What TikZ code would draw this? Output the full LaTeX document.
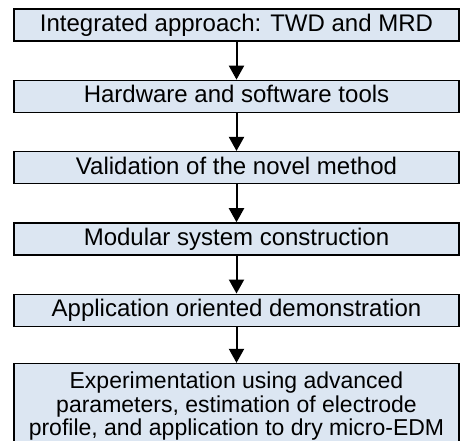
\documentclass[tikz,border=0pt]{standalone}
\usepackage{fontspec}
\setmainfont{Liberation Sans}
\usetikzlibrary{arrows.meta,positioning}
\definecolor{boxfill}{RGB}{220,230,242}
\begin{document}
\begin{tikzpicture}[
  x=1pt, y=1pt,
  node distance=38pt,
  stage/.style={draw, fill=boxfill, line width=1.3pt, minimum width=445pt, minimum height=32pt, inner xsep=2pt, inner ysep=3pt, text height=18pt, text depth=5pt, align=center, font=\fontsize{24}{23}\selectfont},
  flow/.style={-{Triangle[length=14pt, width=15pt]}, line width=2pt}
]
\useasboundingbox (0,0) rectangle (461,-441);
\clip (0,0) rectangle (461,-441);
\node[stage] (integ) at (236.5,-25) {Integrated approach: TWD and MRD};
\node[stage, below=of integ] (tools) {Hardware and software tools};
\node[stage, below=of tools] (valid) {Validation of the novel method};
\node[stage, below=of valid] (modul) {Modular system construction};
\node[stage, below=of modul] (demo) {Application oriented demonstration};
\node[stage, below=36pt of demo, text height=, text depth=, minimum height=86pt, font=\fontsize{23}{23.5}\selectfont] (exper) {Experimentation using advanced\\parameters, estimation of electrode\\profile, and application to dry micro-EDM};
\draw[flow] (integ) -- (tools);
\draw[flow] (tools) -- (valid);
\draw[flow] (valid) -- (modul);
\draw[flow] (modul) -- (demo);
\draw[flow] (demo) -- (exper);
\end{tikzpicture}
\end{document}
